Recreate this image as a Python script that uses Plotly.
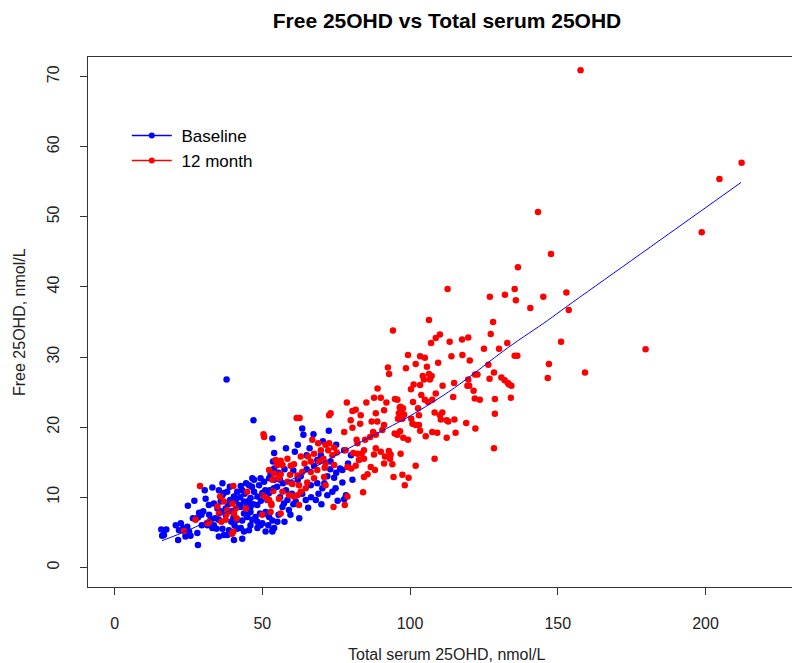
import plotly.graph_objects as go

# ---- data ----
baseline_pts = [
    (15.8,5.4),(17.5,5.4),(16.1,4.5),(16.7,4.6),
    (20.7,6.0),(22.4,6.3),(23.3,5.6),(24.6,5.8),(25.2,5.1),(24.1,4.6),(25.7,4.5),(28.0,4.9),(21.8,5.3),(24.0,4.4),
    (21.5,3.9),(28.2,3.2),(24.8,8.8),(28.6,7.8),(29.4,7.5),(28.2,7.1),
    (31.2,6.3),(32.5,6.8),(33.6,6.0),(35.3,4.4),(37.0,4.6),(38.2,4.6),(38.7,5.3),(40.6,6.0),(42.7,5.6),(43.2,4.1),
    (40.4,3.9),(43.8,5.1),(31.4,6.0),(33.1,5.6),
    (33.1,11.4),(30.8,9.8),(33.6,9.1),(34.8,8.4),(35.9,9.4),(36.5,10.3),(37.0,10.6),(39.1,9.6),(40.4,10.1),(41.5,10.8),
    (42.1,8.9),(43.8,9.4),(44.9,8.9),(46.0,9.9),(47.2,10.8),(48.3,10.1),(50.0,10.6),(48.9,11.7),(47.2,12.5),(49.4,12.7),(50.6,12.2),
    (35.3,6.8),(37.6,7.5),(40.2,7.0),(41.5,6.8),(44.9,7.2),(46.6,6.8),(47.7,7.2),(49.2,7.7),(50.0,6.3),(48.3,5.6),(51.1,5.1),(45.5,5.3),
    (42.7,11.6),(46.6,12.7),(52.3,12.7),(45.5,11.7),(43.2,11.0),(35.3,11.0),(38.1,10.8),(31.9,8.9),(37.6,8.4),(40.4,7.4),
    (43.2,6.7),(43.8,7.7),(42.7,8.6),(46.0,8.6),(48.3,8.9),(51.7,9.6),(52.3,10.6),(53.9,11.3),(44.9,7.5),(48.3,6.5),
    (52.3,7.2),(51.1,7.9),(46.0,7.9),(53.4,5.3),(49.4,6.0),(47.0,21.0),(37.9,26.8),
    (53.4,18.4),(63.5,19.8),(63.9,18.9),(67.3,19.0),
    (54.0,16.3),(53.6,15.1),(54.0,14.1),(52.8,13.3),(54.0,12.5),
    (69.8,16.0),(68.6,15.3),(73.1,15.1),(77.7,16.7),(77.1,13.9),(76.3,14.1),
    (77.1,12.1),(74.3,12.8),(72.0,13.0),
    (66.4,11.7),(68.6,12.0),(70.3,11.3),(73.7,10.8),(72.0,10.3),(74.8,11.3),
    (68.1,9.6),(64.7,9.6),(61.3,9.4),(58.5,9.6),(57.3,9.1),
    (51.9,7.5),(53.4,6.7),(55.1,6.5),(56.8,8.6),(59.0,8.2),(54.0,5.6),(53.4,5.1),
    (78.3,10.3),(77.7,9.7),
    (52.5,11.0),(55.0,11.5),(57.0,12.0),(58.0,11.0),(60.0,10.5),(62.0,12.5),(55.5,13.5),(57.5,14.0),(60.5,13.8),
    (63.0,13.0),(65.0,14.0),(61.0,16.5),(58.0,17.0),(62.0,17.5),(66.0,17.0),(70.5,18.0),(75.0,17.5),(80.0,16.0),
    (72.5,19.5),(56.0,10.0),(59.5,7.5),(62.5,7.0),(65.5,8.5),(70.0,9.0),(75.5,9.5),(80.5,12.5),(79.0,14.8),
    (30.0,8.0),(32.0,7.5),(34.0,7.0),(36.0,8.0),(38.5,9.0),(39.5,8.0),(41.0,9.5),(42.5,10.0),(44.0,10.5),(45.5,9.5),
    (47.0,9.0),(49.5,9.5),(51.0,11.0),(46.5,11.5),(44.5,12.0),(39.0,11.5),(36.5,12.0),(30.5,11.0),(27.0,9.5),(26.5,7.0),
    (29.5,6.0),(34.5,5.5),(36.5,5.5),(39.5,6.5),(41.5,5.5),(46.0,6.0),(52.0,6.0),(55.5,7.5),(57.5,6.5),(60.5,9.0),
    (63.5,10.5),(66.5,10.0),(69.0,10.5),(71.0,12.0),(73.0,14.0),(75.0,13.5),(67.5,14.5),(65.0,16.0),(60.0,12.0),(56.0,12.5),
]

month12_pts = [
    (157.7,70.9),(212.2,57.7),(204.7,55.4),(198.7,47.8),(143.3,50.7),(147.7,44.7),(136.5,42.8),(135.4,39.7),
    (135.8,38.1),(145.1,38.6),(152.9,39.2),(140.7,37.0),(153.7,36.7),(132.9,32.0),(151.1,32.2),(179.7,31.1),
    (135.4,30.2),(136.3,30.2),(147.0,29.0),(159.2,27.8),(146.6,27.0),(133.5,26.1),(134.3,25.9),
    (112.7,39.7),(127.0,38.6),(132.1,38.9),
    (94.2,33.8),(106.4,35.3),(128.1,35.0),(110.1,33.2),(108.7,32.7),(107.1,32.0),(113.4,32.2),(117.6,32.5),
    (119.7,32.8),(127.3,33.3),(125.0,31.2),(130.1,31.2),
    (114.0,30.1),(117.7,30.3),(120.2,29.5),(99.3,30.3),(103.4,30.1),(105.0,29.9),(101.9,29.0),(109.5,29.2),
    (98.6,28.4),(105.7,28.6),(126.5,28.9),
    (92.9,27.6),(104.3,27.3),(106.4,27.6),(107.3,27.3),(106.7,26.8),(104.7,26.8),(122.0,27.5),(122.8,27.5),
    (128.4,27.8),(126.9,26.9),(114.9,26.3),(119.7,26.8),(130.9,27.1),(132.0,26.7),(133.1,26.3),
    (120.0,25.9),(119.4,25.9),(101.2,26.1),(103.4,26.0),(100.3,25.4),(111.0,25.9),(121.5,25.2),(103.8,24.6),
    (108.7,24.8),(121.9,24.1),(123.6,23.9),(114.6,24.3),(134.1,24.2),(128.7,24.0),(94.9,24.0),(95.7,23.9),(101.0,23.6),
    (96.8,22.9),(97.6,22.7),(97.0,22.3),(96.5,22.8),(105.0,23.9),(106.1,23.6),(107.5,23.9),(102.7,22.7),
    (96.2,22.0),(98.0,21.8),(95.9,21.2),(97.4,21.2),(100.4,21.2),(100.8,20.5),(103.0,21.7),(108.3,22.1),
    (110.1,21.7),(110.9,22.1),(110.4,21.1),(112.4,21.0),(112.9,20.8),(115.0,21.1),
    (101.9,20.3),(103.0,20.3),(103.4,19.5),(119.0,20.6),(128.7,21.9),(122.1,19.8),(96.6,19.4),(95.7,18.9),
    (97.7,18.5),(99.3,18.2),(105.3,18.7),(107.5,19.3),(109.2,19.2),(112.4,18.5),(115.4,19.2),
    (92.8,16.6),(93.4,16.1),(96.8,16.2),(108.3,15.5),(101.9,14.5),(128.4,17.0),
    (92.5,28.5),(89.0,25.5),(99.5,12.8),
    (78.6,23.5),(85.2,23.5),(87.8,24.2),(90.1,24.2),(92.0,23.5),
    (80.5,22.3),(81.6,22.5),(73.1,22.0),(72.6,21.7),(61.6,21.3),(62.6,21.3),
    (88.4,22.0),(91.2,22.4),(88.9,20.8),(87.0,20.8),(83.3,21.7),(79.9,21.0),(83.1,20.5),(80.5,19.9),(91.2,20.3),
    (90.6,19.6),(87.5,19.3),(88.4,18.9),(86.5,18.6),(77.7,19.3),(81.9,18.2),(84.8,18.2),(82.2,17.7),(94.8,19.1),
    (66.9,18.2),(68.9,17.7),(71.4,17.5),(72.6,17.7),(74.3,17.1),(72.3,16.7),(78.2,16.7),(80.8,16.3),(82.2,16.2),
    (83.6,16.2),(84.4,15.5),(82.7,15.3),(84.4,16.7),(90.1,16.5),(88.4,17.0),(87.8,16.1),(93.2,15.5),(91.5,15.8),(94.0,14.7),
    (86.7,14.3),(88.1,13.9),(81.6,14.5),(80.1,14.1),(78.8,14.3),(85.6,13.3),(84.4,12.9),(94.4,12.9),(97.4,13.2),
    (98.2,11.7),(91.2,14.8),(84.1,10.7),(78.8,10.1),(77.9,8.9),(74.1,8.6),
    (69.8,16.7),(67.5,16.2),(65.5,15.8),(63.0,15.8),(64.3,14.8),(66.4,15.1),(69.2,15.1),(70.7,15.5),(71.4,14.8),
    (75.2,16.4),(73.7,16.0),
    (58.5,15.5),(56.2,15.2),(54.5,15.3),(55.1,14.6),(59.6,14.5),(60.7,14.7),(56.8,14.6),
    (52.3,13.9),(54.0,13.4),(56.2,13.3),(59.4,13.2),(61.9,13.1),(63.5,13.6),(66.4,13.6),(68.6,13.9),(71.1,14.2),(74.3,14.6),
    (53.4,12.5),(55.6,12.7),(58.5,12.2),(60.2,11.9),(62.4,11.7),(65.2,12.1),(67.5,12.7),(70.9,12.9),(71.4,11.7),
    (64.7,11.3),(63.0,10.8),(61.9,10.3),
    (53.7,10.9),(56.8,10.8),(59.0,10.3),(60.7,10.1),(55.6,9.8),
    (56.2,7.7),(62.4,8.9),(53.1,8.9),
    (50.4,19.0),(50.6,18.6),(28.9,11.6),(40.2,11.6),(44.9,10.8),(35.7,10.1),(37.0,9.4),(34.8,8.7),(38.2,8.2),
    (39.9,9.1),(44.4,8.4),(41.3,7.0),(37.6,6.8),(36.1,6.5),(40.2,5.1),(39.8,4.8),(32.0,6.5),(27.4,6.8),(23.5,5.2),
    (50.0,7.5),(51.7,9.8),(50.3,10.3),(52.3,9.6),(53.0,9.1),(52.8,7.9),(35.3,7.7),(37.9,7.6),(40.4,7.7),(41.0,8.4),(31.4,6.3),
]

fit_x = [16, 25, 35, 50, 63, 78, 92, 100, 115, 133, 146.5, 153, 175, 212]
fit_y = [3.8, 5.3, 7.3, 10.4, 13.2, 16.7, 19.8, 21.6, 25.6, 31.3, 35.2, 37.2, 43.8, 54.9]

x_ticks = [0, 50, 100, 150, 200]
y_ticks = [0, 10, 20, 30, 40, 50, 60, 70]

series_names = ["Baseline", "12 month"]
series_colors = ["#0000FF", "#FF0000"]

bx = [p[0] for p in baseline_pts]
by = [p[1] for p in baseline_pts]
mx = [p[0] for p in month12_pts]
my = [p[1] for p in month12_pts]

FONT = "Liberation Sans, Arial, sans-serif"

fig = go.Figure()
fig.add_trace(go.Scatter(x=bx, y=by, mode="markers", showlegend=False,
                         marker=dict(color=series_colors[0], size=6.5, line=dict(width=0))))
fig.add_trace(go.Scatter(x=mx, y=my, mode="markers", showlegend=False,
                         marker=dict(color=series_colors[1], size=6.5, line=dict(width=0))))
fig.add_trace(go.Scatter(x=fit_x, y=fit_y, mode="lines", showlegend=False,
                         line=dict(color="#0000FF", width=1, shape="spline")))
# legend entries (line with a dot, as in the reference)
for name, col in zip(series_names, series_colors):
    fig.add_trace(go.Scatter(x=[None], y=[None], mode="lines+markers", name="\u00a0" + name,
                             line=dict(color=col, width=1.5),
                             marker=dict(color=col, size=6)))

axis_common = dict(showgrid=False, zeroline=False, showline=True, mirror=True,
                   linecolor="#333333", linewidth=1, ticks="outside", ticklen=7,
                   tickcolor="#333333", tickwidth=1,
                   tickfont=dict(family=FONT, size=16, color="#222222"))

fig.update_layout(
    width=800, height=663,
    margin=dict(l=80, r=2, t=49, b=84),
    paper_bgcolor="white", plot_bgcolor="white",
    title=dict(text="<b>Free 25OHD vs Total serum 25OHD</b>", x=439 / 800, xanchor="center",
               y=1 - 13 / 663, yanchor="middle",
               font=dict(family=FONT, size=21, color="#000000")),
    xaxis=dict(range=[-9, 234], tickvals=x_ticks, ticklabelstandoff=15, **axis_common),
    yaxis=dict(range=[-2.8, 72.8], tickvals=y_ticks, tickangle=-90, ticklabelstandoff=15, **axis_common),
    legend=dict(x=0.054, y=0.885, xanchor="left", yanchor="top", bgcolor="rgba(0,0,0,0)",
                font=dict(family=FONT, size=17, color="#000000"), itemwidth=40),
    annotations=[
        dict(text="Total serum 25OHD, nmol/L", xref="paper", yref="paper", x=0.5, y=0,
             yshift=-67, showarrow=False, yanchor="middle",
             font=dict(family=FONT, size=16, color="#222222")),
        dict(text="Free 25OHD, nmol/L", xref="paper", yref="paper", x=0, y=0.5,
             xshift=-69, showarrow=False, textangle=-90, xanchor="center",
             font=dict(family=FONT, size=16, color="#222222")),
    ],
)

fig.write_html("out.html")
